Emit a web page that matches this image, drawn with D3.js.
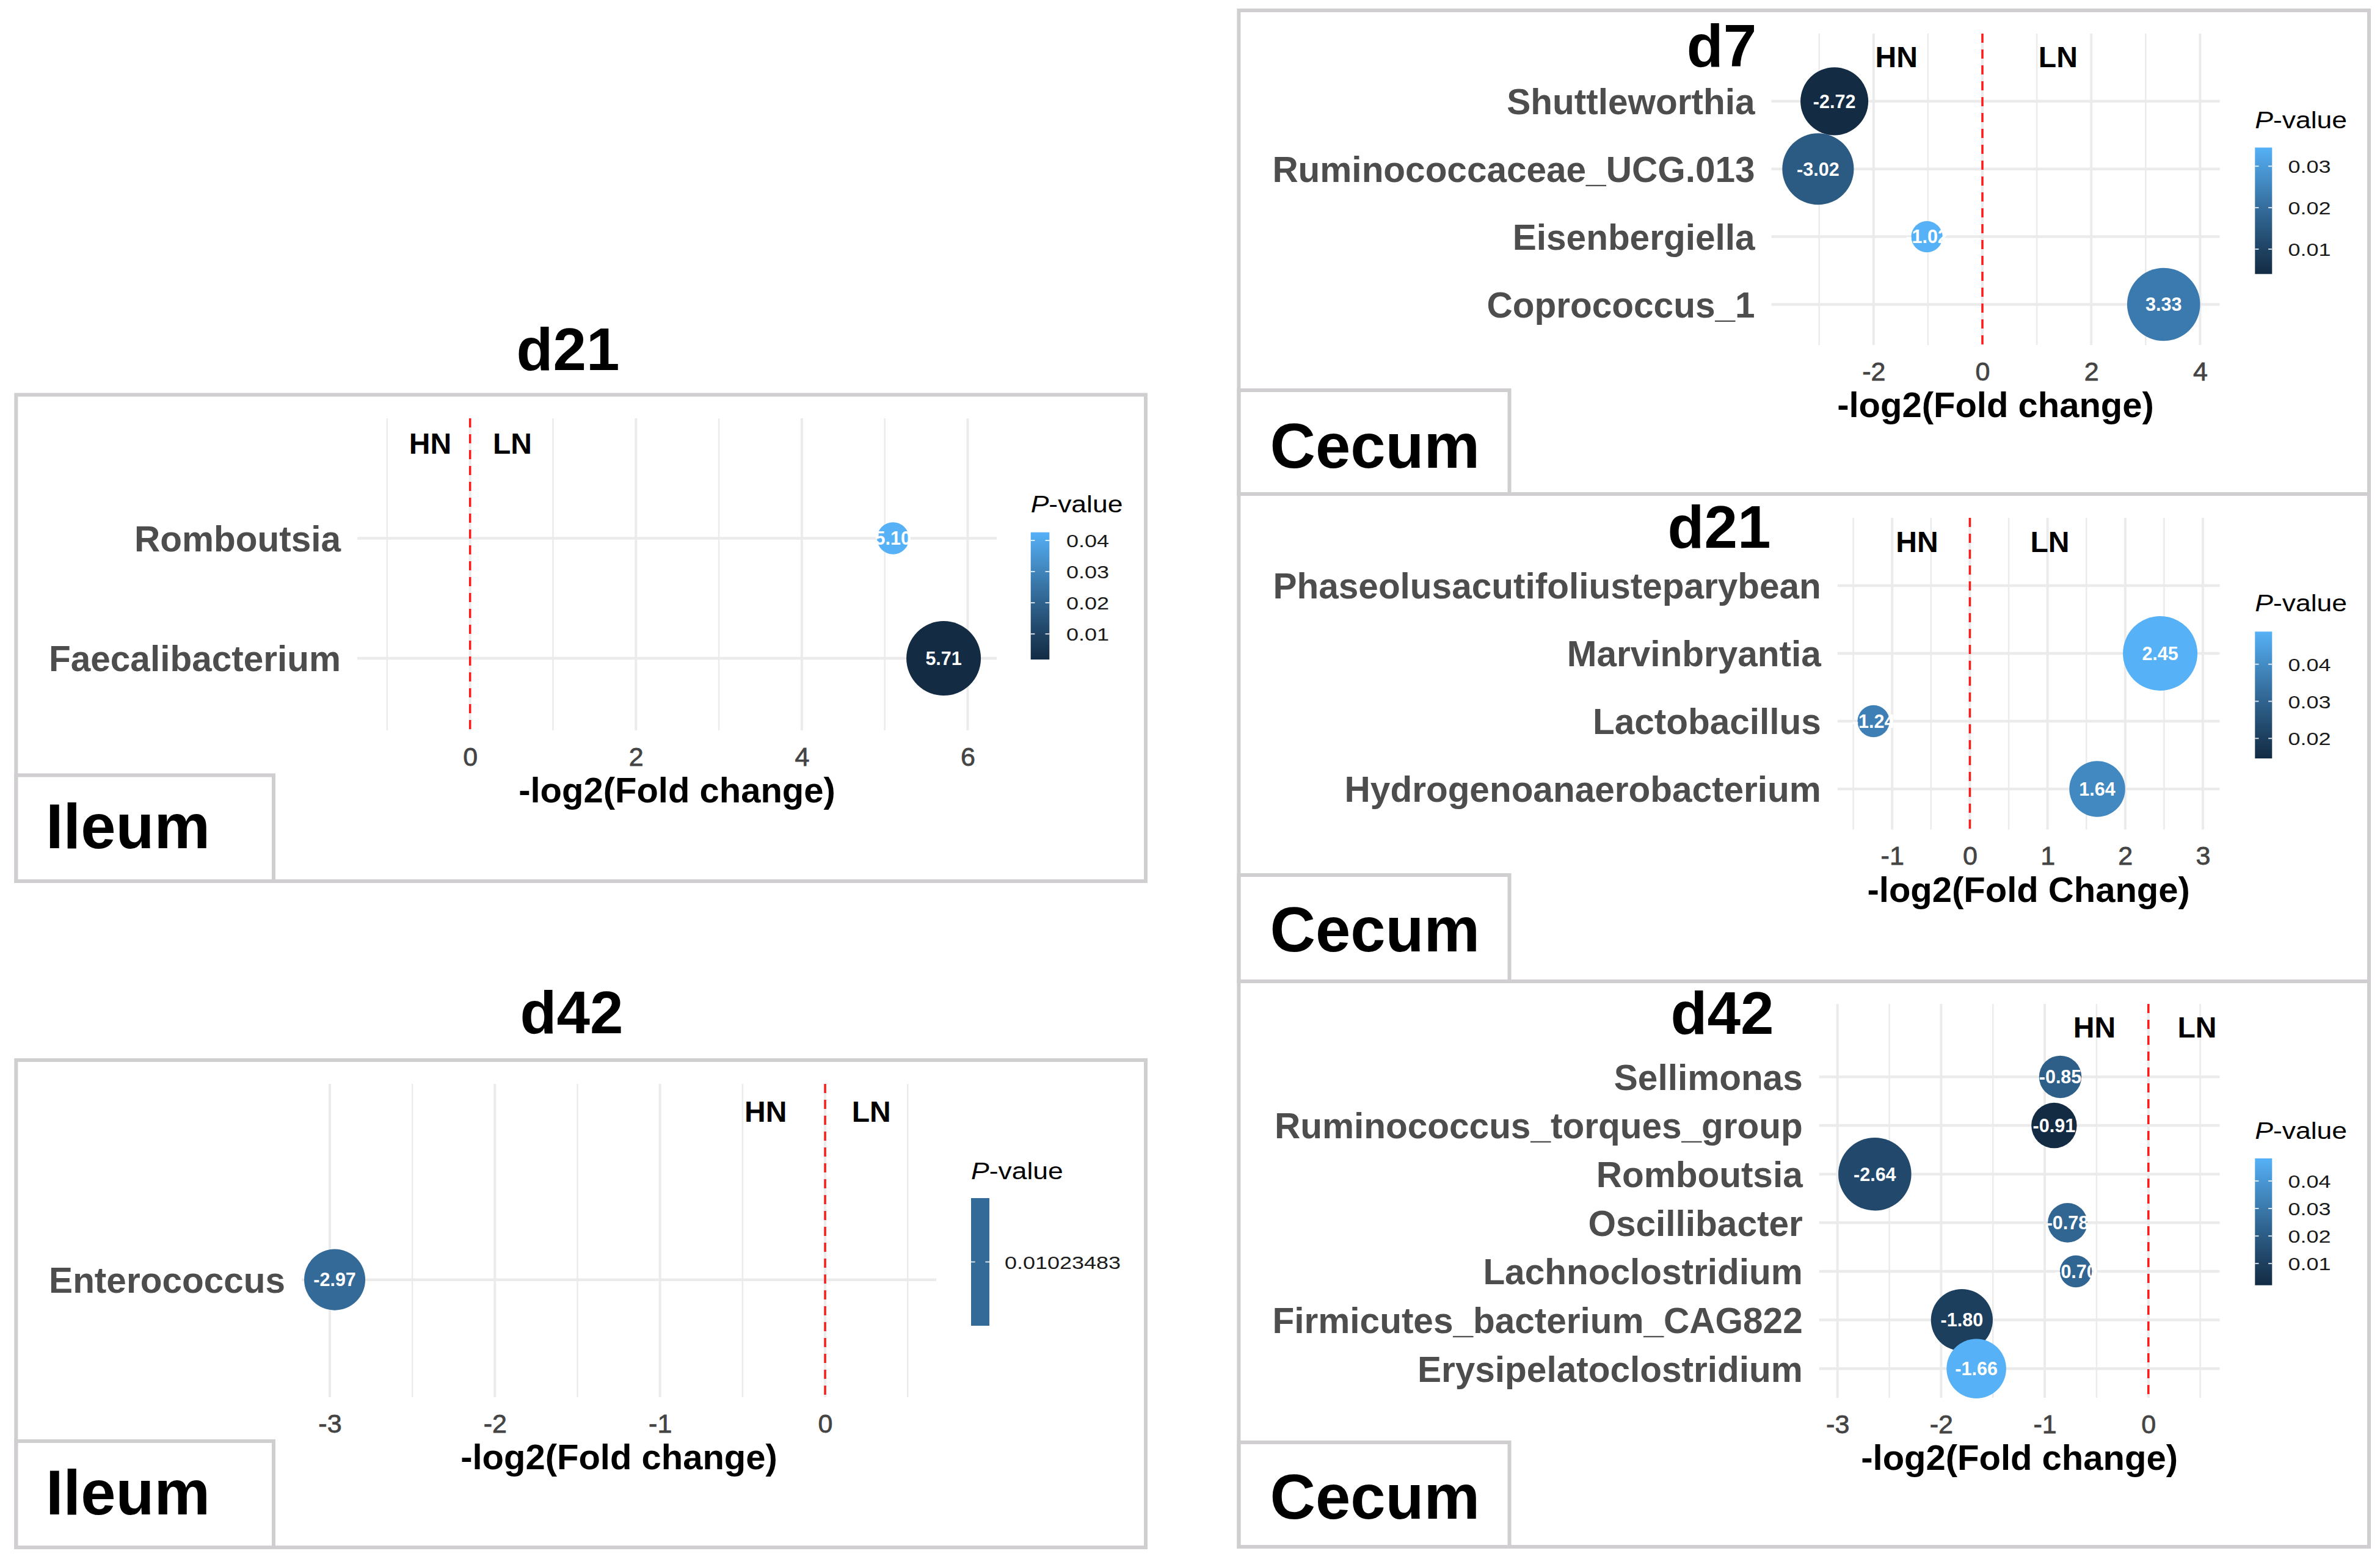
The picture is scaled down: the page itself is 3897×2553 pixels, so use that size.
<!DOCTYPE html>
<html><head><meta charset="utf-8">
<script src="https://cdn.jsdelivr.net/npm/d3@7"></script>
<style>body{margin:0;background:#fff}</style>
</head><body>
<svg id="c" width="3897" height="2553" xmlns="http://www.w3.org/2000/svg"></svg>
<script>
// ---------------- DATA ----------------
// Ileum d21
const ileumD21Taxa = ["Romboutsia", "Faecalibacterium"];
const ileumD21FC = [5.10, 5.71];
const ileumD21P = [0.0426, 0.0018];
const ileumD21Size = [0.43, 1.0];
const ileumD21Ticks = [0, 2, 4, 6];
const ileumD21LegendTicks = [0.01, 0.02, 0.03, 0.04];

// Ileum d42
const ileumD42Taxa = ["Enterococcus"];
const ileumD42FC = [-2.97];
const ileumD42P = [0.01023483];
const ileumD42Size = [0.82];
const ileumD42Ticks = [-3, -2, -1, 0];
const ileumD42LegendTicks = [0.01023483];

// Cecum d7
const cecumD7Taxa = ["Shuttleworthia", "Ruminococcaceae_UCG.013", "Eisenbergiella", "Coprococcus_1"];
const cecumD7FC = [-2.72, -3.02, -1.02, 3.33];
const cecumD7P = [0.0040, 0.0156, 0.0345, 0.0229];
const cecumD7Size = [0.91, 0.96, 0.42, 0.98];
const cecumD7Ticks = [-2, 0, 2, 4];
const cecumD7LegendTicks = [0.01, 0.02, 0.03];

// Cecum d21
const cecumD21Taxa = ["Phaseolusacutifoliusteparybean", "Marvinbryantia", "Lactobacillus", "Hydrogenoanaerobacterium"];
const cecumD21FC = [null, 2.45, -1.24, 1.64];
const cecumD21P = [0.0146, 0.0488, 0.0372, 0.0392];
const cecumD21Size = [null, 1.0, 0.43, 0.75];
const cecumD21Ticks = [-1, 0, 1, 2, 3];
const cecumD21LegendTicks = [0.02, 0.03, 0.04];

// Cecum d42
const cecumD42Taxa = ["Sellimonas", "Ruminococcus_torques_group", "Romboutsia", "Oscillibacter", "Lachnoclostridium", "Firmicutes_bacterium_CAG822", "Erysipelatoclostridium"];
const cecumD42FC = [-0.85, -0.91, -2.64, -0.78, -0.70, -1.80, -1.66];
const cecumD42P = [0.0214, 0.0021, 0.0136, 0.0237, 0.0237, 0.0099, 0.0482];
const cecumD42Size = [0.57, 0.61, 0.98, 0.53, 0.43, 0.83, 0.80];
const cecumD42Ticks = [-3, -2, -1, 0];
const cecumD42LegendTicks = [0.01, 0.02, 0.03, 0.04];

// --------------- RENDER ---------------
const FONT = "'Liberation Sans', Arial, Helvetica, sans-serif";
const svg = d3.select("#c");
const LOW = "#132B43", HIGH = "#56B1F7";
const BORDER = "#D0CED0";
const fmt2 = v => (v < 0 ? "-" : "") + Math.abs(v).toFixed(2);
const fmtTick = v => (v < 0 ? "-" : "") + Math.abs(v);
const rScale = d3.scaleLinear().domain([0, 1]).range([0, 61]);

function box(x0, y0, x1, y1) {
  svg.append("rect").attr("x", x0).attr("y", y0).attr("width", x1 - x0).attr("height", y1 - y0)
    .attr("fill", "none").attr("stroke", BORDER).attr("stroke-width", 6);
}

function txt(parent, s, x, y, size, opts = {}) {
  return parent.append("text").attr("x", x).attr("y", y).text(s)
    .attr("font-family", FONT).attr("font-size", size)
    .attr("font-weight", opts.weight || "normal")
    .attr("fill", opts.fill || "#000")
    .attr("text-anchor", opts.anchor || "start");
}

let gradId = 0;
function panel(cfg, taxa, fc, pv, size, ticks, legendTicks) {
  const g = svg.append("g");
  const P = cfg.plot;
  const x = d3.scaleLinear().domain(cfg.xDomain).range([P.left, P.right]);
  const n = taxa.length;
  const y = d3.scaleLinear().domain(cfg.yDomain).range([P.bottom, P.top]);
  const rowPos = taxa.map((t, i) => n - i);

  // grid: minor then major vertical
  const step = ticks[1] - ticks[0];
  const minor = [];
  for (let t = ticks[0] - step / 2; t <= cfg.xDomain[1]; t += step) if (t >= cfg.xDomain[0]) minor.push(t);
  g.append("g").selectAll("line").data(minor).join("line")
    .attr("x1", d => x(d)).attr("x2", d => x(d)).attr("y1", P.top).attr("y2", P.bottom)
    .attr("stroke", "#EBEBEB").attr("stroke-width", 2.5);
  g.append("g").selectAll("line").data(ticks).join("line")
    .attr("x1", d => x(d)).attr("x2", d => x(d)).attr("y1", P.top).attr("y2", P.bottom)
    .attr("stroke", "#EBEBEB").attr("stroke-width", 4);
  g.append("g").selectAll("line").data(rowPos).join("line")
    .attr("x1", P.left).attr("x2", P.right).attr("y1", d => y(d)).attr("y2", d => y(d))
    .attr("stroke", "#EBEBEB").attr("stroke-width", 4.5);

  // red dashed zero line
  g.append("line").attr("x1", x(0)).attr("x2", x(0)).attr("y1", P.top).attr("y2", P.bottom)
    .attr("stroke", "#FF1A1A").attr("stroke-width", 3.5).attr("stroke-dasharray", "15,11");

  // colour scale
  const ext = d3.extent(pv);
  const single = ext[0] === ext[1];
  const col = single ? (() => d3.interpolateLab(LOW, HIGH)(0.5))
    : d3.scaleLinear().domain(ext).range([LOW, HIGH]).interpolate(d3.interpolateLab);

  // points
  const pts = taxa.map((t, i) => ({ t, fc: fc[i], p: pv[i], s: size[i], pos: rowPos[i] }))
    .filter(d => d.fc !== null);
  g.append("g").selectAll("circle").data(pts).join("circle")
    .attr("cx", d => x(d.fc)).attr("cy", d => y(d.pos)).attr("r", d => rScale(d.s))
    .attr("fill", d => col(d.p));
  g.append("g").selectAll("text").data(pts).join("text")
    .attr("x", d => x(d.fc)).attr("y", d => y(d.pos) + 10.8)
    .attr("text-anchor", "middle").attr("font-family", FONT).attr("font-size", 30.5)
    .attr("font-weight", "bold").attr("fill", "#fff").text(d => fmt2(d.fc));

  // HN / LN annotations
  cfg.ann.forEach(a => {
    txt(g, a.label, x(a.x), y(a.y) + 17.2, 48, { weight: "bold", anchor: "middle" });
  });

  // y axis (category labels)
  const ya = g.append("g").attr("transform", `translate(${P.left},0)`)
    .call(d3.axisLeft(y).tickValues(rowPos).tickFormat(p => taxa[n - p]).tickSize(0).tickPadding(27));
  ya.select(".domain").remove();
  ya.attr("font-size", null).attr("font-family", null);
  ya.selectAll("text").attr("font-family", FONT).attr("font-size", 58.5).attr("font-weight", "bold")
    .attr("fill", "#4D4D4D").attr("dy", "0.355em");

  // x axis
  const xa = g.append("g").attr("transform", `translate(0,${P.bottom})`)
    .call(d3.axisBottom(x).tickValues(ticks).tickFormat(fmtTick).tickSize(0).tickPadding(0));
  xa.select(".domain").remove();
  xa.attr("font-size", null).attr("font-family", null);
  xa.selectAll("text").attr("font-family", FONT).attr("font-size", 43).attr("fill", "#444")
    .attr("stroke", "#444").attr("stroke-width", 0.8)
    .attr("dy", null).attr("y", 42.5 + 15.4);

  // axis title
  txt(g, cfg.axisTitle, (P.left + P.right) / 2, P.bottom + 118, 58, { weight: "bold", anchor: "middle" });

  // panel title
  txt(g, cfg.title, cfg.titleX, cfg.titleY, 98, { weight: "bold", anchor: "middle" });

  // tissue label
  txt(g, cfg.tissue, cfg.tissueX, cfg.tissueY, 103, { weight: "bold" });

  // legend
  const L = cfg.legend;
  const lt = g.append("text").attr("transform", `translate(${L.x},${L.titleY}) scale(1.14,1)`)
    .attr("font-family", FONT).attr("font-size", 39).attr("fill", "#000");
  lt.append("tspan").attr("font-style", "italic").text("P");
  lt.append("tspan").text("-value");

  const pScale = single
    ? d3.scaleLinear().domain([ext[0] * 0.99, ext[0] * 1.01]).range([L.bottom, L.top])
    : d3.scaleLinear().domain(ext).range([L.bottom, L.top]);
  const id = "grad" + (gradId++);
  const grad = svg.append("defs").append("linearGradient").attr("id", id)
    .attr("x1", 0).attr("y1", 1).attr("x2", 0).attr("y2", 0);
  d3.range(0, 1.0001, 0.05).forEach(t => {
    grad.append("stop").attr("offset", t)
      .attr("stop-color", single ? col() : d3.interpolateLab(LOW, HIGH)(t));
  });
  g.append("rect").attr("x", L.x).attr("y", L.top).attr("width", L.w).attr("height", L.bottom - L.top)
    .attr("fill", `url(#${id})`);
  const tk = g.append("g");
  legendTicks.forEach(t => {
    const yy = pScale(t);
    tk.append("line").attr("x1", L.x).attr("x2", L.x + L.w * 0.22).attr("y1", yy).attr("y2", yy);
    tk.append("line").attr("x1", L.x + L.w * 0.78).attr("x2", L.x + L.w).attr("y1", yy).attr("y2", yy);
  });
  tk.selectAll("line").attr("stroke", "#fff").attr("stroke-opacity", 0.8).attr("stroke-width", 2);

  const la = g.append("g").attr("transform", `translate(${L.labelX},0)`)
    .call(d3.axisRight(pScale).tickValues(legendTicks).tickFormat(d => String(d)).tickSize(0).tickPadding(0));
  la.select(".domain").remove();
  la.attr("font-size", null).attr("font-family", null);
  la.selectAll("text").attr("font-family", FONT).attr("font-size", 30).attr("fill", "#1A1A1A")
    .attr("x", 0).attr("dy", "0.355em").attr("transform", "scale(1.2,1)");
}

// frames
box(26.3, 646.5, 1876, 1443);
box(26.3, 1269.5, 448, 1443);
box(26.3, 1736, 1876, 2534);
box(26.3, 2360, 448, 2534);
box(2028.4, 17, 3879, 809);
box(2028.4, 639, 2471.5, 809);
box(2028.4, 809, 3879, 1607);
box(2028.4, 1433, 2471.5, 1607);
box(2028.4, 1607, 3879, 2533);
box(2028.4, 2362, 2471.5, 2533);

panel({
  plot: { left: 585, right: 1632, top: 685, bottom: 1196 },
  xDomain: [-1.36, 6.35], yDomain: [0.4, 3.0],
  ann: [{ label: "HN", x: -0.48, y: 2.79 }, { label: "LN", x: 0.51, y: 2.79 }],
  axisTitle: "-log2(Fold change)", title: "d21", titleX: 930, titleY: 606,
  tissue: "Ileum", tissueX: 75, tissueY: 1389,
  legend: { x: 1687.7, w: 30.6, top: 871.7, bottom: 1080, titleY: 839.3, labelX: 1746 }
}, ileumD21Taxa, ileumD21FC, ileumD21P, ileumD21Size, ileumD21Ticks, ileumD21LegendTicks);

panel({
  plot: { left: 494, right: 1533, top: 1775, bottom: 2288 },
  xDomain: [-3.17, 0.673], yDomain: [0.4, 2.0],
  ann: [{ label: "HN", x: -0.36, y: 1.86 }, { label: "LN", x: 0.28, y: 1.86 }],
  axisTitle: "-log2(Fold change)", title: "d42", titleX: 936, titleY: 1692,
  tissue: "Ileum", tissueX: 75, tissueY: 2480,
  legend: { x: 1590, w: 30, top: 1962, bottom: 2171, titleY: 1930.5, labelX: 1645 }
}, ileumD42Taxa, ileumD42FC, ileumD42P, ileumD42Size, ileumD42Ticks, ileumD42LegendTicks);

panel({
  plot: { left: 2900.5, right: 3634.5, top: 55, bottom: 565 },
  xDomain: [-3.877, 4.36], yDomain: [0.4, 5.0],
  ann: [{ label: "HN", x: -1.58, y: 4.66 }, { label: "LN", x: 1.39, y: 4.66 }],
  axisTitle: "-log2(Fold change)", title: "d7", titleX: 2819, titleY: 109,
  tissue: "Cecum", tissueX: 2079.6, tissueY: 766.4,
  legend: { x: 3692.3, w: 28, top: 241.6, bottom: 448.7, titleY: 210, labelX: 3746.5 }
}, cecumD7Taxa, cecumD7FC, cecumD7P, cecumD7Size, cecumD7Ticks, cecumD7LegendTicks);

panel({
  plot: { left: 3008.8, right: 3634.5, top: 848, bottom: 1358.6 },
  xDomain: [-1.703, 3.216], yDomain: [0.4, 5.0],
  ann: [{ label: "HN", x: -0.68, y: 4.65 }, { label: "LN", x: 1.03, y: 4.65 }],
  axisTitle: "-log2(Fold Change)", title: "d21", titleX: 2815, titleY: 897,
  tissue: "Cecum", tissueX: 2079.6, tissueY: 1558,
  legend: { x: 3692.3, w: 28, top: 1034.3, bottom: 1242, titleY: 1001, labelX: 3746.5 }
}, cecumD21Taxa, cecumD21FC, cecumD21P, cecumD21Size, cecumD21Ticks, cecumD21LegendTicks);

panel({
  plot: { left: 2978.7, right: 3634.5, top: 1644, bottom: 2289 },
  xDomain: [-3.177, 0.688], yDomain: [0.4, 8.5],
  ann: [{ label: "HN", x: -0.52, y: 8.02 }, { label: "LN", x: 0.47, y: 8.02 }],
  axisTitle: "-log2(Fold change)", title: "d42", titleX: 2820, titleY: 1693,
  tissue: "Cecum", tissueX: 2079.6, tissueY: 2487,
  legend: { x: 3692.3, w: 28, top: 1897, bottom: 2104.7, titleY: 1864.6, labelX: 3746.5 }
}, cecumD42Taxa, cecumD42FC, cecumD42P, cecumD42Size, cecumD42Ticks, cecumD42LegendTicks);
</script>
</body></html>
